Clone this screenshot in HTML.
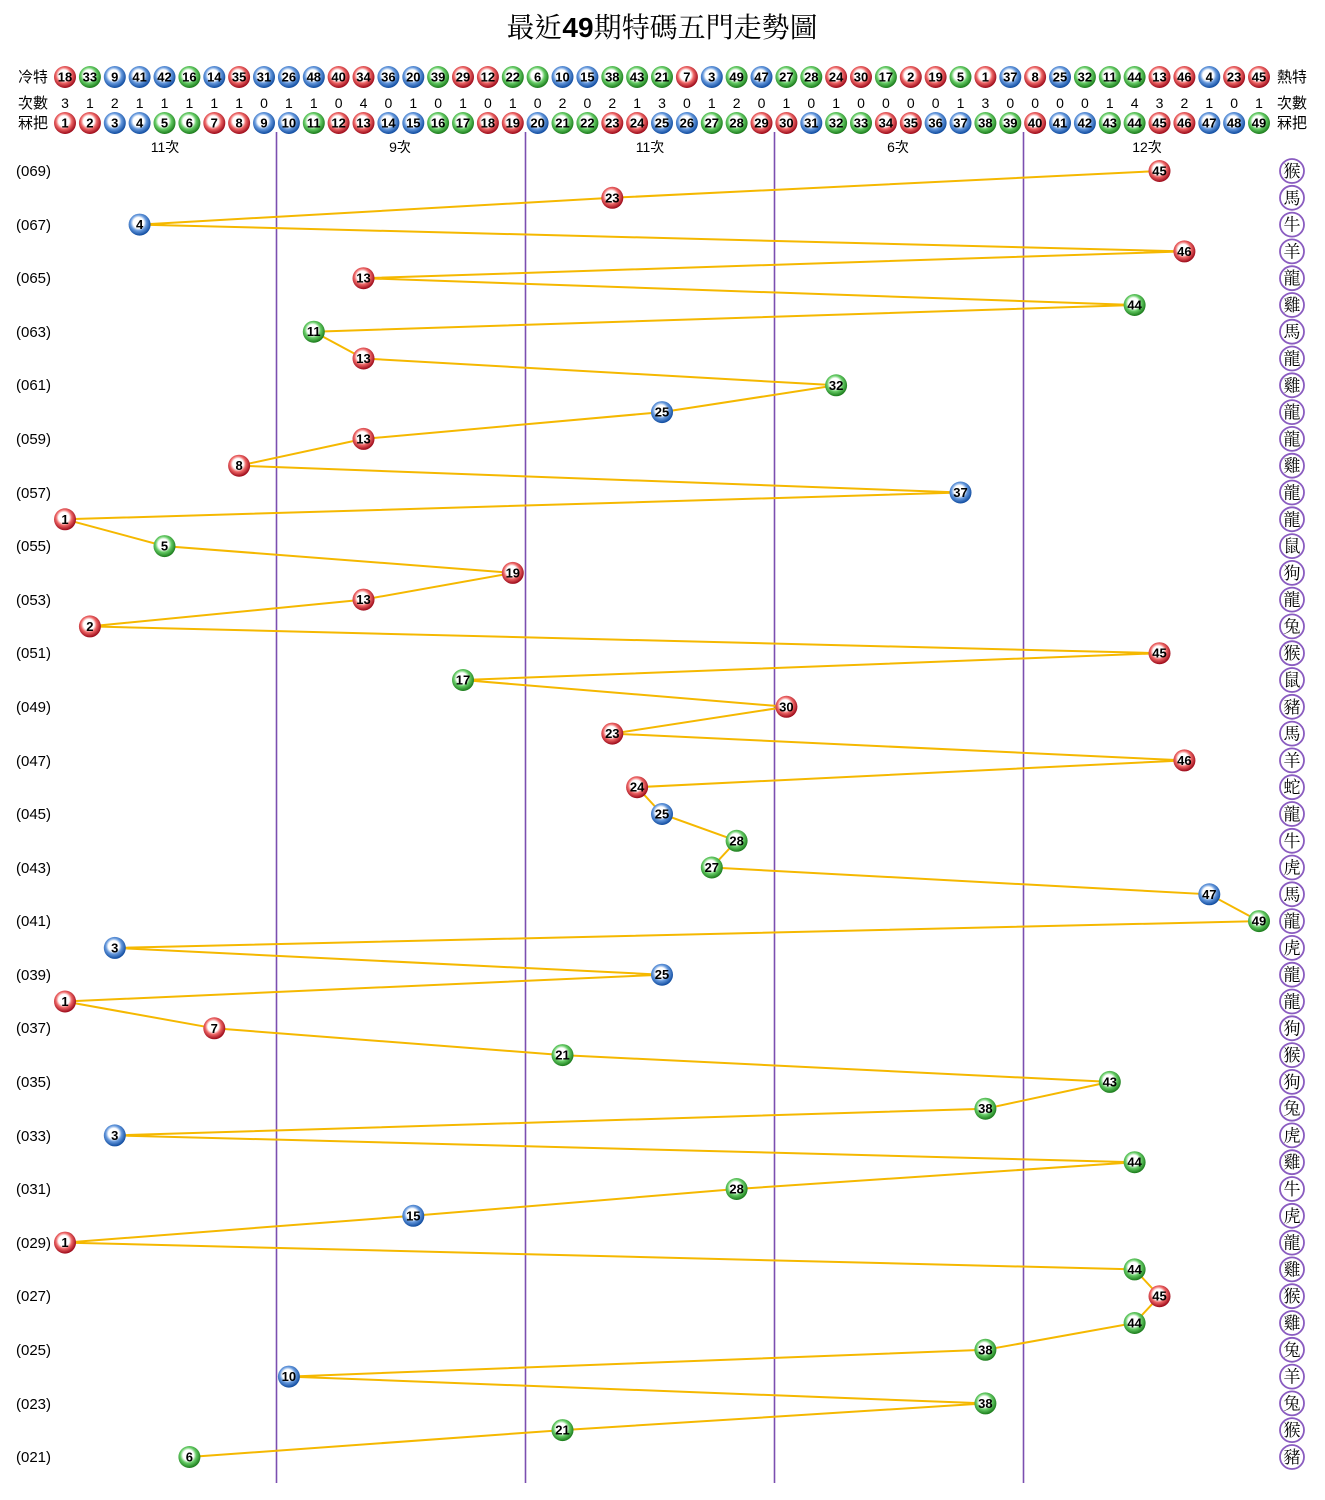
<!DOCTYPE html>
<html><head><meta charset="utf-8"><style>
html,body{margin:0;padding:0;background:#fff}
svg{display:block}
.b text,.n{font-family:"Liberation Sans",sans-serif;font-weight:bold;font-size:13px;text-anchor:middle;fill:#000}
.lab{font-family:"Liberation Sans","Noto Sans CJK TC",sans-serif;font-size:15px;fill:#000}
.z{font-family:"Liberation Serif","Noto Serif CJK SC",serif;font-size:17px;text-anchor:middle;fill:#000}
</style></head><body>
<svg width="1325" height="1500" viewBox="0 0 1325 1500" xmlns="http://www.w3.org/2000/svg">
<defs>
<radialGradient id="R" cx="45%" cy="42%" r="58%"><stop offset="0" stop-color="#fff"/><stop offset="0.42" stop-color="#fff"/><stop offset="0.62" stop-color="#e66"/><stop offset="1" stop-color="#9a0818"/></radialGradient>
<radialGradient id="G" cx="45%" cy="42%" r="58%"><stop offset="0" stop-color="#fff"/><stop offset="0.42" stop-color="#fff"/><stop offset="0.62" stop-color="#6c6"/><stop offset="1" stop-color="#1a7a1a"/></radialGradient>
<radialGradient id="B" cx="45%" cy="42%" r="58%"><stop offset="0" stop-color="#fff"/><stop offset="0.42" stop-color="#fff"/><stop offset="0.62" stop-color="#69d"/><stop offset="1" stop-color="#0e4a9e"/></radialGradient>
<g id="r"><circle r="11" fill="url(#R)"/></g>
<g id="g"><circle r="11" fill="url(#G)"/></g>
<g id="u"><circle r="11" fill="url(#B)"/></g>
</defs>
<text x="662" y="37" font-family="'Liberation Serif','Noto Serif CJK TC',serif" font-size="28" text-anchor="middle">最近<tspan font-family="'Liberation Sans',sans-serif" font-weight="bold">49</tspan>期特碼五門走勢圖</text>

<g stroke="#7b4fb0" stroke-width="1.6">
<line x1="276.5" y1="132" x2="276.5" y2="1483"/>
<line x1="525.5" y1="132" x2="525.5" y2="1483"/>
<line x1="774.5" y1="132" x2="774.5" y2="1483"/>
<line x1="1023.5" y1="132" x2="1023.5" y2="1483"/>
</g>

<g class="lab">
<text x="18" y="82">冷特</text><text x="18" y="108">次數</text><text x="18" y="128">冧把</text>
<text x="1277" y="82">熱特</text><text x="1277" y="108">次數</text><text x="1277" y="128">冧把</text>
<text x="165" y="152" text-anchor="middle" font-size="14">11次</text>
<text x="400" y="152" text-anchor="middle" font-size="14">9次</text>
<text x="650" y="152" text-anchor="middle" font-size="14">11次</text>
<text x="898" y="152" text-anchor="middle" font-size="14">6次</text>
<text x="1147" y="152" text-anchor="middle" font-size="14">12次</text>
</g>

<g class="b">
<use href="#r" x="65" y="77"/><text x="65" y="81.5">18</text>
<use href="#g" x="89.9" y="77"/><text x="89.9" y="81.5">33</text>
<use href="#u" x="114.8" y="77"/><text x="114.8" y="81.5">9</text>
<use href="#u" x="139.6" y="77"/><text x="139.6" y="81.5">41</text>
<use href="#u" x="164.5" y="77"/><text x="164.5" y="81.5">42</text>
<use href="#g" x="189.4" y="77"/><text x="189.4" y="81.5">16</text>
<use href="#u" x="214.3" y="77"/><text x="214.3" y="81.5">14</text>
<use href="#r" x="239.1" y="77"/><text x="239.1" y="81.5">35</text>
<use href="#u" x="264" y="77"/><text x="264" y="81.5">31</text>
<use href="#u" x="288.9" y="77"/><text x="288.9" y="81.5">26</text>
<use href="#u" x="313.8" y="77"/><text x="313.8" y="81.5">48</text>
<use href="#r" x="338.6" y="77"/><text x="338.6" y="81.5">40</text>
<use href="#r" x="363.5" y="77"/><text x="363.5" y="81.5">34</text>
<use href="#u" x="388.4" y="77"/><text x="388.4" y="81.5">36</text>
<use href="#u" x="413.3" y="77"/><text x="413.3" y="81.5">20</text>
<use href="#g" x="438.1" y="77"/><text x="438.1" y="81.5">39</text>
<use href="#r" x="463" y="77"/><text x="463" y="81.5">29</text>
<use href="#r" x="487.9" y="77"/><text x="487.9" y="81.5">12</text>
<use href="#g" x="512.8" y="77"/><text x="512.8" y="81.5">22</text>
<use href="#g" x="537.6" y="77"/><text x="537.6" y="81.5">6</text>
<use href="#u" x="562.5" y="77"/><text x="562.5" y="81.5">10</text>
<use href="#u" x="587.4" y="77"/><text x="587.4" y="81.5">15</text>
<use href="#g" x="612.3" y="77"/><text x="612.3" y="81.5">38</text>
<use href="#g" x="637.1" y="77"/><text x="637.1" y="81.5">43</text>
<use href="#g" x="662" y="77"/><text x="662" y="81.5">21</text>
<use href="#r" x="686.9" y="77"/><text x="686.9" y="81.5">7</text>
<use href="#u" x="711.8" y="77"/><text x="711.8" y="81.5">3</text>
<use href="#g" x="736.6" y="77"/><text x="736.6" y="81.5">49</text>
<use href="#u" x="761.5" y="77"/><text x="761.5" y="81.5">47</text>
<use href="#g" x="786.4" y="77"/><text x="786.4" y="81.5">27</text>
<use href="#g" x="811.3" y="77"/><text x="811.3" y="81.5">28</text>
<use href="#r" x="836.1" y="77"/><text x="836.1" y="81.5">24</text>
<use href="#r" x="861" y="77"/><text x="861" y="81.5">30</text>
<use href="#g" x="885.9" y="77"/><text x="885.9" y="81.5">17</text>
<use href="#r" x="910.8" y="77"/><text x="910.8" y="81.5">2</text>
<use href="#r" x="935.6" y="77"/><text x="935.6" y="81.5">19</text>
<use href="#g" x="960.5" y="77"/><text x="960.5" y="81.5">5</text>
<use href="#r" x="985.4" y="77"/><text x="985.4" y="81.5">1</text>
<use href="#u" x="1010.3" y="77"/><text x="1010.3" y="81.5">37</text>
<use href="#r" x="1035.1" y="77"/><text x="1035.1" y="81.5">8</text>
<use href="#u" x="1060" y="77"/><text x="1060" y="81.5">25</text>
<use href="#g" x="1084.9" y="77"/><text x="1084.9" y="81.5">32</text>
<use href="#g" x="1109.8" y="77"/><text x="1109.8" y="81.5">11</text>
<use href="#g" x="1134.6" y="77"/><text x="1134.6" y="81.5">44</text>
<use href="#r" x="1159.5" y="77"/><text x="1159.5" y="81.5">13</text>
<use href="#r" x="1184.4" y="77"/><text x="1184.4" y="81.5">46</text>
<use href="#u" x="1209.3" y="77"/><text x="1209.3" y="81.5">4</text>
<use href="#r" x="1234.1" y="77"/><text x="1234.1" y="81.5">23</text>
<use href="#r" x="1259" y="77"/><text x="1259" y="81.5">45</text>
</g>

<g font-family="'Liberation Sans',sans-serif" font-size="14" text-anchor="middle">
<text x="65" y="108">3</text><text x="89.9" y="108">1</text><text x="114.8" y="108">2</text><text x="139.6" y="108">1</text><text x="164.5" y="108">1</text><text x="189.4" y="108">1</text><text x="214.3" y="108">1</text><text x="239.1" y="108">1</text><text x="264" y="108">0</text><text x="288.9" y="108">1</text><text x="313.8" y="108">1</text><text x="338.6" y="108">0</text><text x="363.5" y="108">4</text><text x="388.4" y="108">0</text><text x="413.3" y="108">1</text><text x="438.1" y="108">0</text><text x="463" y="108">1</text><text x="487.9" y="108">0</text><text x="512.8" y="108">1</text><text x="537.6" y="108">0</text><text x="562.5" y="108">2</text><text x="587.4" y="108">0</text><text x="612.3" y="108">2</text><text x="637.1" y="108">1</text><text x="662" y="108">3</text><text x="686.9" y="108">0</text><text x="711.8" y="108">1</text><text x="736.6" y="108">2</text><text x="761.5" y="108">0</text><text x="786.4" y="108">1</text><text x="811.3" y="108">0</text><text x="836.1" y="108">1</text><text x="861" y="108">0</text><text x="885.9" y="108">0</text><text x="910.8" y="108">0</text><text x="935.6" y="108">0</text><text x="960.5" y="108">1</text><text x="985.4" y="108">3</text><text x="1010.3" y="108">0</text><text x="1035.1" y="108">0</text><text x="1060" y="108">0</text><text x="1084.9" y="108">0</text><text x="1109.8" y="108">1</text><text x="1134.6" y="108">4</text><text x="1159.5" y="108">3</text><text x="1184.4" y="108">2</text><text x="1209.3" y="108">1</text><text x="1234.1" y="108">0</text><text x="1259" y="108">1</text>
</g>

<g class="b">
<use href="#r" x="65" y="123"/><text x="65" y="127.5">1</text>
<use href="#r" x="89.9" y="123"/><text x="89.9" y="127.5">2</text>
<use href="#u" x="114.8" y="123"/><text x="114.8" y="127.5">3</text>
<use href="#u" x="139.6" y="123"/><text x="139.6" y="127.5">4</text>
<use href="#g" x="164.5" y="123"/><text x="164.5" y="127.5">5</text>
<use href="#g" x="189.4" y="123"/><text x="189.4" y="127.5">6</text>
<use href="#r" x="214.3" y="123"/><text x="214.3" y="127.5">7</text>
<use href="#r" x="239.1" y="123"/><text x="239.1" y="127.5">8</text>
<use href="#u" x="264" y="123"/><text x="264" y="127.5">9</text>
<use href="#u" x="288.9" y="123"/><text x="288.9" y="127.5">10</text>
<use href="#g" x="313.8" y="123"/><text x="313.8" y="127.5">11</text>
<use href="#r" x="338.6" y="123"/><text x="338.6" y="127.5">12</text>
<use href="#r" x="363.5" y="123"/><text x="363.5" y="127.5">13</text>
<use href="#u" x="388.4" y="123"/><text x="388.4" y="127.5">14</text>
<use href="#u" x="413.3" y="123"/><text x="413.3" y="127.5">15</text>
<use href="#g" x="438.1" y="123"/><text x="438.1" y="127.5">16</text>
<use href="#g" x="463" y="123"/><text x="463" y="127.5">17</text>
<use href="#r" x="487.9" y="123"/><text x="487.9" y="127.5">18</text>
<use href="#r" x="512.8" y="123"/><text x="512.8" y="127.5">19</text>
<use href="#u" x="537.6" y="123"/><text x="537.6" y="127.5">20</text>
<use href="#g" x="562.5" y="123"/><text x="562.5" y="127.5">21</text>
<use href="#g" x="587.4" y="123"/><text x="587.4" y="127.5">22</text>
<use href="#r" x="612.3" y="123"/><text x="612.3" y="127.5">23</text>
<use href="#r" x="637.1" y="123"/><text x="637.1" y="127.5">24</text>
<use href="#u" x="662" y="123"/><text x="662" y="127.5">25</text>
<use href="#u" x="686.9" y="123"/><text x="686.9" y="127.5">26</text>
<use href="#g" x="711.8" y="123"/><text x="711.8" y="127.5">27</text>
<use href="#g" x="736.6" y="123"/><text x="736.6" y="127.5">28</text>
<use href="#r" x="761.5" y="123"/><text x="761.5" y="127.5">29</text>
<use href="#r" x="786.4" y="123"/><text x="786.4" y="127.5">30</text>
<use href="#u" x="811.3" y="123"/><text x="811.3" y="127.5">31</text>
<use href="#g" x="836.1" y="123"/><text x="836.1" y="127.5">32</text>
<use href="#g" x="861" y="123"/><text x="861" y="127.5">33</text>
<use href="#r" x="885.9" y="123"/><text x="885.9" y="127.5">34</text>
<use href="#r" x="910.8" y="123"/><text x="910.8" y="127.5">35</text>
<use href="#u" x="935.6" y="123"/><text x="935.6" y="127.5">36</text>
<use href="#u" x="960.5" y="123"/><text x="960.5" y="127.5">37</text>
<use href="#g" x="985.4" y="123"/><text x="985.4" y="127.5">38</text>
<use href="#g" x="1010.3" y="123"/><text x="1010.3" y="127.5">39</text>
<use href="#r" x="1035.1" y="123"/><text x="1035.1" y="127.5">40</text>
<use href="#u" x="1060" y="123"/><text x="1060" y="127.5">41</text>
<use href="#u" x="1084.9" y="123"/><text x="1084.9" y="127.5">42</text>
<use href="#g" x="1109.8" y="123"/><text x="1109.8" y="127.5">43</text>
<use href="#g" x="1134.6" y="123"/><text x="1134.6" y="127.5">44</text>
<use href="#r" x="1159.5" y="123"/><text x="1159.5" y="127.5">45</text>
<use href="#r" x="1184.4" y="123"/><text x="1184.4" y="127.5">46</text>
<use href="#u" x="1209.3" y="123"/><text x="1209.3" y="127.5">47</text>
<use href="#u" x="1234.1" y="123"/><text x="1234.1" y="127.5">48</text>
<use href="#g" x="1259" y="123"/><text x="1259" y="127.5">49</text>
</g>

<g class="lab" font-size="15">
<text x="16" y="176">(069)</text><text x="16" y="230">(067)</text><text x="16" y="283">(065)</text><text x="16" y="337">(063)</text><text x="16" y="390">(061)</text><text x="16" y="444">(059)</text><text x="16" y="498">(057)</text><text x="16" y="551">(055)</text><text x="16" y="605">(053)</text><text x="16" y="658">(051)</text><text x="16" y="712">(049)</text><text x="16" y="766">(047)</text><text x="16" y="819">(045)</text><text x="16" y="873">(043)</text><text x="16" y="926">(041)</text><text x="16" y="980">(039)</text><text x="16" y="1033">(037)</text><text x="16" y="1087">(035)</text><text x="16" y="1141">(033)</text><text x="16" y="1194">(031)</text><text x="16" y="1248">(029)</text><text x="16" y="1301">(027)</text><text x="16" y="1355">(025)</text><text x="16" y="1409">(023)</text><text x="16" y="1462">(021)</text>
</g>

<polyline fill="none" stroke="#f5b800" stroke-width="2" points="1159.5,171 612.3,197.8 139.6,224.6 1184.4,251.4 363.5,278.2 1134.6,305 313.8,331.7 363.5,358.5 836.1,385.3 662,412.1 363.5,438.9 239.1,465.7 960.5,492.5 65,519.3 164.5,546.1 512.8,572.9 363.5,599.6 89.9,626.4 1159.5,653.2 463,680 786.4,706.8 612.3,733.6 1184.4,760.4 637.1,787.2 662,814 736.6,840.8 711.8,867.5 1209.3,894.3 1259,921.1 114.8,947.9 662,974.7 65,1001.5 214.3,1028.3 562.5,1055.1 1109.8,1081.9 985.4,1108.7 114.8,1135.4 1134.6,1162.2 736.6,1189 413.3,1215.8 65,1242.6 1134.6,1269.4 1159.5,1296.2 1134.6,1323 985.4,1349.8 288.9,1376.6 985.4,1403.4 562.5,1430.1 189.4,1457"/>

<g class="b">
<use href="#r" x="1159.5" y="171"/><text x="1159.5" y="175.5">45</text>
<use href="#r" x="612.3" y="197.8"/><text x="612.3" y="202.3">23</text>
<use href="#u" x="139.6" y="224.6"/><text x="139.6" y="229.1">4</text>
<use href="#r" x="1184.4" y="251.4"/><text x="1184.4" y="255.9">46</text>
<use href="#r" x="363.5" y="278.2"/><text x="363.5" y="282.7">13</text>
<use href="#g" x="1134.6" y="305"/><text x="1134.6" y="309.5">44</text>
<use href="#g" x="313.8" y="331.7"/><text x="313.8" y="336.2">11</text>
<use href="#r" x="363.5" y="358.5"/><text x="363.5" y="363">13</text>
<use href="#g" x="836.1" y="385.3"/><text x="836.1" y="389.8">32</text>
<use href="#u" x="662" y="412.1"/><text x="662" y="416.6">25</text>
<use href="#r" x="363.5" y="438.9"/><text x="363.5" y="443.4">13</text>
<use href="#r" x="239.1" y="465.7"/><text x="239.1" y="470.2">8</text>
<use href="#u" x="960.5" y="492.5"/><text x="960.5" y="497">37</text>
<use href="#r" x="65" y="519.3"/><text x="65" y="523.8">1</text>
<use href="#g" x="164.5" y="546.1"/><text x="164.5" y="550.6">5</text>
<use href="#r" x="512.8" y="572.9"/><text x="512.8" y="577.4">19</text>
<use href="#r" x="363.5" y="599.6"/><text x="363.5" y="604.1">13</text>
<use href="#r" x="89.9" y="626.4"/><text x="89.9" y="630.9">2</text>
<use href="#r" x="1159.5" y="653.2"/><text x="1159.5" y="657.7">45</text>
<use href="#g" x="463" y="680"/><text x="463" y="684.5">17</text>
<use href="#r" x="786.4" y="706.8"/><text x="786.4" y="711.3">30</text>
<use href="#r" x="612.3" y="733.6"/><text x="612.3" y="738.1">23</text>
<use href="#r" x="1184.4" y="760.4"/><text x="1184.4" y="764.9">46</text>
<use href="#r" x="637.1" y="787.2"/><text x="637.1" y="791.7">24</text>
<use href="#u" x="662" y="814"/><text x="662" y="818.5">25</text>
<use href="#g" x="736.6" y="840.8"/><text x="736.6" y="845.3">28</text>
<use href="#g" x="711.8" y="867.5"/><text x="711.8" y="872">27</text>
<use href="#u" x="1209.3" y="894.3"/><text x="1209.3" y="898.8">47</text>
<use href="#g" x="1259" y="921.1"/><text x="1259" y="925.6">49</text>
<use href="#u" x="114.8" y="947.9"/><text x="114.8" y="952.4">3</text>
<use href="#u" x="662" y="974.7"/><text x="662" y="979.2">25</text>
<use href="#r" x="65" y="1001.5"/><text x="65" y="1006">1</text>
<use href="#r" x="214.3" y="1028.3"/><text x="214.3" y="1032.8">7</text>
<use href="#g" x="562.5" y="1055.1"/><text x="562.5" y="1059.6">21</text>
<use href="#g" x="1109.8" y="1081.9"/><text x="1109.8" y="1086.4">43</text>
<use href="#g" x="985.4" y="1108.7"/><text x="985.4" y="1113.2">38</text>
<use href="#u" x="114.8" y="1135.4"/><text x="114.8" y="1139.9">3</text>
<use href="#g" x="1134.6" y="1162.2"/><text x="1134.6" y="1166.7">44</text>
<use href="#g" x="736.6" y="1189"/><text x="736.6" y="1193.5">28</text>
<use href="#u" x="413.3" y="1215.8"/><text x="413.3" y="1220.3">15</text>
<use href="#r" x="65" y="1242.6"/><text x="65" y="1247.1">1</text>
<use href="#g" x="1134.6" y="1269.4"/><text x="1134.6" y="1273.9">44</text>
<use href="#r" x="1159.5" y="1296.2"/><text x="1159.5" y="1300.7">45</text>
<use href="#g" x="1134.6" y="1323"/><text x="1134.6" y="1327.5">44</text>
<use href="#g" x="985.4" y="1349.8"/><text x="985.4" y="1354.3">38</text>
<use href="#u" x="288.9" y="1376.6"/><text x="288.9" y="1381.1">10</text>
<use href="#g" x="985.4" y="1403.4"/><text x="985.4" y="1407.9">38</text>
<use href="#g" x="562.5" y="1430.1"/><text x="562.5" y="1434.6">21</text>
<use href="#g" x="189.4" y="1457"/><text x="189.4" y="1461.5">6</text>
</g>

<g fill="#fff" stroke="#8a5cc0" stroke-width="1.8">
<circle cx="1292" cy="171" r="12"/><circle cx="1292" cy="197.8" r="12"/><circle cx="1292" cy="224.6" r="12"/><circle cx="1292" cy="251.4" r="12"/><circle cx="1292" cy="278.2" r="12"/><circle cx="1292" cy="305" r="12"/><circle cx="1292" cy="331.7" r="12"/><circle cx="1292" cy="358.5" r="12"/><circle cx="1292" cy="385.3" r="12"/><circle cx="1292" cy="412.1" r="12"/><circle cx="1292" cy="438.9" r="12"/><circle cx="1292" cy="465.7" r="12"/><circle cx="1292" cy="492.5" r="12"/><circle cx="1292" cy="519.3" r="12"/><circle cx="1292" cy="546.1" r="12"/><circle cx="1292" cy="572.9" r="12"/><circle cx="1292" cy="599.6" r="12"/><circle cx="1292" cy="626.4" r="12"/><circle cx="1292" cy="653.2" r="12"/><circle cx="1292" cy="680" r="12"/><circle cx="1292" cy="706.8" r="12"/><circle cx="1292" cy="733.6" r="12"/><circle cx="1292" cy="760.4" r="12"/><circle cx="1292" cy="787.2" r="12"/><circle cx="1292" cy="814" r="12"/><circle cx="1292" cy="840.8" r="12"/><circle cx="1292" cy="867.5" r="12"/><circle cx="1292" cy="894.3" r="12"/><circle cx="1292" cy="921.1" r="12"/><circle cx="1292" cy="947.9" r="12"/><circle cx="1292" cy="974.7" r="12"/><circle cx="1292" cy="1001.5" r="12"/><circle cx="1292" cy="1028.3" r="12"/><circle cx="1292" cy="1055.1" r="12"/><circle cx="1292" cy="1081.9" r="12"/><circle cx="1292" cy="1108.7" r="12"/><circle cx="1292" cy="1135.4" r="12"/><circle cx="1292" cy="1162.2" r="12"/><circle cx="1292" cy="1189" r="12"/><circle cx="1292" cy="1215.8" r="12"/><circle cx="1292" cy="1242.6" r="12"/><circle cx="1292" cy="1269.4" r="12"/><circle cx="1292" cy="1296.2" r="12"/><circle cx="1292" cy="1323" r="12"/><circle cx="1292" cy="1349.8" r="12"/><circle cx="1292" cy="1376.6" r="12"/><circle cx="1292" cy="1403.4" r="12"/><circle cx="1292" cy="1430.1" r="12"/><circle cx="1292" cy="1457" r="12"/>
</g>
<g class="z">
<text x="1292" y="177">猴</text><text x="1292" y="203.8">馬</text><text x="1292" y="230.6">牛</text><text x="1292" y="257.4">羊</text><text x="1292" y="284.2">龍</text><text x="1292" y="311">雞</text><text x="1292" y="337.7">馬</text><text x="1292" y="364.5">龍</text><text x="1292" y="391.3">雞</text><text x="1292" y="418.1">龍</text><text x="1292" y="444.9">龍</text><text x="1292" y="471.7">雞</text><text x="1292" y="498.5">龍</text><text x="1292" y="525.3">龍</text><text x="1292" y="552.1">鼠</text><text x="1292" y="578.9">狗</text><text x="1292" y="605.6">龍</text><text x="1292" y="632.4">兔</text><text x="1292" y="659.2">猴</text><text x="1292" y="686">鼠</text><text x="1292" y="712.8">豬</text><text x="1292" y="739.6">馬</text><text x="1292" y="766.4">羊</text><text x="1292" y="793.2">蛇</text><text x="1292" y="820">龍</text><text x="1292" y="846.8">牛</text><text x="1292" y="873.5">虎</text><text x="1292" y="900.3">馬</text><text x="1292" y="927.1">龍</text><text x="1292" y="953.9">虎</text><text x="1292" y="980.7">龍</text><text x="1292" y="1007.5">龍</text><text x="1292" y="1034.3">狗</text><text x="1292" y="1061.1">猴</text><text x="1292" y="1087.9">狗</text><text x="1292" y="1114.7">兔</text><text x="1292" y="1141.4">虎</text><text x="1292" y="1168.2">雞</text><text x="1292" y="1195">牛</text><text x="1292" y="1221.8">虎</text><text x="1292" y="1248.6">龍</text><text x="1292" y="1275.4">雞</text><text x="1292" y="1302.2">猴</text><text x="1292" y="1329">雞</text><text x="1292" y="1355.8">兔</text><text x="1292" y="1382.6">羊</text><text x="1292" y="1409.4">兔</text><text x="1292" y="1436.1">猴</text><text x="1292" y="1463">豬</text>
</g>
</svg>
</body></html>
